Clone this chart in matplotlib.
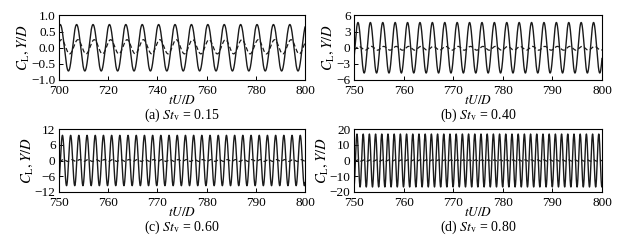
import numpy as np
import matplotlib
matplotlib.use("Agg")
import matplotlib.pyplot as plt

plt.rcParams['font.family'] = ['Liberation Serif', 'DejaVu Serif']
plt.rcParams['mathtext.fontset'] = 'stix'
plt.rcParams['axes.unicode_minus'] = True

# values, one entry per panel (a)-(d)
panel_tags = ['(a)', '(b)', '(c)', '(d)']
st_v = [0.15, 0.40, 0.60, 0.80]          # oscillation frequency (tU/D units)
t_start = [700, 750, 750, 750]
t_end = [800, 800, 800, 800]
cl_amp = [0.72, 4.7, 9.6, 16.8]          # solid curve amplitude
cl_peak = [700.5, 750.8, 750.7, 750.6]   # time of first solid peak
yd_amp = [0.22, 0.35, 0.35, 0.4]         # dashed curve amplitude
yd_mean = [0.03, -0.1, 0.0, 0.0]
yd_peak = [701.0, 751.0, 750.9, 750.8]   # time of first dashed peak
y_lims = [(-1.0, 1.0), (-6, 6), (-12, 12), (-20, 20)]
y_ticks = [[-1.0, -0.5, 0.0, 0.5, 1.0], [-6, -3, 0, 3, 6], [-12, -6, 0, 6, 12], [-20, -10, 0, 10, 20]]
x_ticks = [[700, 720, 740, 760, 780, 800], [750, 760, 770, 780, 790, 800],
           [750, 760, 770, 780, 790, 800], [750, 760, 770, 780, 790, 800]]

W, H = 631, 245
fig = plt.figure(figsize=(W / 100, H / 100), dpi=100)

# axes boxes in pixels: left, right, top, bottom
boxes = [(59, 305, 15.5, 80), (354, 602, 15.5, 80), (59, 305, 129, 192), (354, 602, 129, 192)]

for i in range(4):
    l, r, t, b = boxes[i]
    ax = fig.add_axes([l / W, 1 - b / H, (r - l) / W, (b - t) / H])
    tt = np.linspace(t_start[i], t_end[i], 3000)
    cl = cl_amp[i] * np.cos(2 * np.pi * st_v[i] * (tt - cl_peak[i]))
    yd = yd_mean[i] + yd_amp[i] * np.cos(2 * np.pi * st_v[i] * (tt - yd_peak[i]))
    ax.plot(tt, cl, color='#1a1a1a', lw=1.0)
    ax.plot(tt, yd, color='#1a1a1a', lw=0.9, dashes=(3.5, 2))
    ax.set_xlim(t_start[i], t_end[i])
    ax.set_ylim(*y_lims[i])
    ax.set_xticks(x_ticks[i])
    ax.set_yticks(y_ticks[i])
    ax.tick_params(direction='in', length=3, width=0.7, labelsize=9.5)
    ax.tick_params(axis='x', pad=3.8)
    ax.tick_params(axis='y', pad=2.5)
    for s in ax.spines.values():
        s.set_linewidth(0.8)
    ax.set_xlabel('$tU/D$', fontsize=9.5, labelpad=-2.5)
    ax.set_ylabel('$C_{\\mathrm{L}}, Y/D$', fontsize=10.5, labelpad=0)
    cap_y = -(35.5 / (b - t))
    ax.text(0.5, cap_y, panel_tags[i] + ' $St_{\\mathrm{v}}$ = %.2f' % st_v[i],
            transform=ax.transAxes, ha='center', va='center', fontsize=10)

fig.savefig('out.png', dpi=100)
